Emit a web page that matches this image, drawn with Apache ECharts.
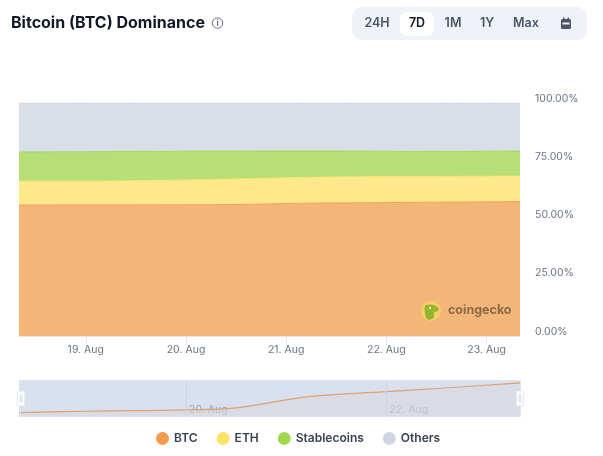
<!DOCTYPE html>
<html><head><meta charset="utf-8">
<style>html,body{margin:0;padding:0;background:#fff}#c{width:603px;height:456px}</style>
<script src="https://cdn.jsdelivr.net/npm/echarts@6/dist/echarts.min.js"></script></head>
<body><div id="c"></div>
<script>
const times = ['2025-08-18T08:00Z','2025-08-19T00:00Z','2025-08-20T00:00Z','2025-08-20T12:00Z','2025-08-21T00:00Z','2025-08-21T08:00Z','2025-08-22T00:00Z','2025-08-22T12:00Z','2025-08-23T08:00Z'];
const btc = [56.2,56.27,56.34,56.44,56.85,57.06,57.26,57.42,57.7];
const eth = [10.3,10.23,10.66,10.96,11.05,11.14,11.19,11.08,11.0];
const stablecoins = [12.5,12.6,12.3,11.95,11.5,11.2,10.85,10.7,10.7];
const others = [21.0,20.9,20.7,20.65,20.6,20.6,20.7,20.8,20.6];
const seriesNames = ['BTC','ETH','Stablecoins','Others'];
const seriesValues = [btc,eth,stablecoins,others];
const seriesColors = ['#f39c4e','#fde467','#a1d84f','#cdd6e2'];
const fillColors = ['#f4b578','#fde98b','#b6df78','#d8dfe9'];
const navTicks = ['2025-08-20T00:00Z','2025-08-22T00:00Z'];
const ranges = ['24H','7D','1M','1Y','Max'];
const rangeX = [377,417,453,487,526];
const FONT='Inter';
const DAY=86400000;
const ms=s=>new Date(s).getTime();
const xMin=ms(times[0]), xMax=ms(times[times.length-1]);
const dayLabel=v=>{const d=new Date(v);return d.getUTCDate()+'. Aug';};
const navLabel=v=>navTicks.map(ms).includes(+v)?dayLabel(v):'';
const chart=echarts.init(document.getElementById('c'),null,{renderer:'canvas'});
const graphic=[
 {type:'rect',shape:{x:352,y:7,width:235,height:33,r:10},style:{fill:'#eff2f8'}},
 {type:'rect',shape:{x:400,y:12,width:34,height:24,r:7},style:{fill:'#fff'}},
 ...ranges.map((t,i)=>({type:'text',x:rangeX[i],y:23,style:{text:t,fill:i===1?'#111827':'#4b5565',font:'600 12.5px '+FONT,align:'center',verticalAlign:'middle'}})),
 {type:'rect',shape:{x:561,y:19,width:10,height:10,r:1.5},style:{fill:'#4b5565'}},
 {type:'rect',shape:{x:562.5,y:22.5,width:7,height:2},style:{fill:'#eff2f8'}},
 {type:'rect',shape:{x:563,y:17.5,width:1.5,height:2},style:{fill:'#4b5565'}},
 {type:'rect',shape:{x:567.5,y:17.5,width:1.5,height:2},style:{fill:'#4b5565'}},
 {type:'circle',shape:{cx:217.5,cy:23,r:5.2},style:{fill:'none',stroke:'#6b7280',lineWidth:1}},
 {type:'text',x:217.5,y:23.2,style:{text:'i',fill:'#6b7280',font:'700 8px '+FONT,align:'center',verticalAlign:'middle'}},
 {type:'circle',z:20,shape:{cx:431,cy:311,r:10},style:{fill:'#f6d365',opacity:.9}},
 {type:'polygon',z:21,shape:{points:[[425,306],[430,304.5],[434,305],[439,309],[437,311.5],[434,312],[434,317],[431,319.5],[427,319],[425,313]],smooth:0.3},style:{fill:'#93b52f'}},
 {type:'circle',z:22,shape:{cx:430,cy:308,r:1},style:{fill:'#fff'}},
 {type:'text',z:20,x:448,y:310.5,style:{text:'coingecko',fill:'#8a6a47',font:'700 12.5px '+FONT,verticalAlign:'middle'}}
];
chart.setOption({
 animation:false,
 useUTC:true,
 textStyle:{fontFamily:FONT},
 title:{text:'Bitcoin (BTC) Dominance',left:11,top:15,padding:0,textStyle:{fontFamily:FONT,fontWeight:700,fontSize:16,color:'#111827'}},
 graphic,
 legend:{data:seriesNames.map((n,i)=>({name:n,itemStyle:{color:seriesColors[i],opacity:1}})),bottom:11,left:156,padding:0,icon:'circle',itemWidth:13,itemHeight:13,itemGap:19,selectedMode:false,textStyle:{fontFamily:FONT,fontSize:12,fontWeight:600,color:'#364152'}},
 grid:[
  {left:19,right:83,top:103,height:233},
  {left:19,right:83,top:380,height:37,show:true,backgroundColor:'#d9e0ef',borderWidth:0}
 ],
 xAxis:[
  {type:'time',gridIndex:0,min:xMin,max:xMax,minInterval:DAY,maxInterval:DAY,
   axisLine:{show:true,lineStyle:{color:'#e3e8ef'}},
   axisTick:{show:true,length:9,lineStyle:{color:'#e3e8ef'}},
   axisLabel:{color:'#697586',fontSize:10.5,fontFamily:FONT,margin:8,formatter:dayLabel,hideOverlap:false,showMinLabel:false,showMaxLabel:false},
   splitLine:{show:false}},
  {type:'time',gridIndex:1,min:xMin,max:xMax,minInterval:DAY,maxInterval:DAY,
   axisLine:{show:false},axisTick:{show:false},
   axisLabel:{inside:true,color:'#9aa1b3',fontSize:10.5,fontFamily:FONT,margin:2,align:'left',padding:[0,0,0,3],formatter:navLabel,hideOverlap:false,showMinLabel:false,showMaxLabel:false},
   splitLine:{show:false}}
 ],
 yAxis:[
  {type:'value',gridIndex:0,position:'right',min:0,max:100,interval:25,
   axisLine:{show:false},axisTick:{show:false},
   axisLabel:{color:'#697586',fontSize:10.5,fontFamily:FONT,margin:15,verticalAlign:'bottom',lineHeight:9,formatter:v=>v.toFixed(2)+'%'},
   splitLine:{show:false}},
  {type:'value',gridIndex:1,min:55.98,max:57.85,show:false}
 ],
 dataZoom:[{type:'slider',xAxisIndex:0,filterMode:'none',start:0,end:100,left:19,right:83,top:380,height:37,
   showDataShadow:false,showDetail:false,brushSelect:false,moveHandleSize:0,
   backgroundColor:'rgba(0,0,0,0)',borderColor:'#dce2ee',fillerColor:'rgba(0,0,0,0)',
   handleIcon:'path://M1 0 H9 Q10 0 10 1 V19 Q10 20 9 20 H1 Q0 20 0 19 V1 Q0 0 1 0 Z M3.5 5 V15 H4.5 V5 Z M5.5 5 V15 H6.5 V5 Z',
   handleSize:'40%',handleStyle:{color:'#fff',borderColor:'#e3e8ef',borderWidth:1,shadowBlur:0,shadowColor:'transparent',opacity:1}}],
 series:[
  ...seriesNames.map((n,i)=>({name:n,type:'line',stack:'dom',xAxisIndex:0,yAxisIndex:0,smooth:0.3,symbol:'none',
    data:seriesValues[i].map((v,j)=>[ms(times[j]),v]),
    lineStyle:{color:seriesColors[i],width:1,opacity:.9},
    itemStyle:{color:seriesColors[i]},
    areaStyle:{color:fillColors[i],opacity:1}})),
  {name:'nav',type:'line',xAxisIndex:1,yAxisIndex:1,smooth:0.4,symbol:'none',data:btc.map((v,j)=>[ms(times[j]),v]),
   lineStyle:{color:'#e0a070',width:1.2},itemStyle:{color:'#e0a070'},areaStyle:{color:'#d9d9dc',opacity:.6},
   markLine:{symbol:'none',silent:true,label:{show:false},lineStyle:{color:'#cdd5e3',width:1,type:'solid'},data:navTicks.map(t=>({xAxis:ms(t)}))}}
 ]
});
</script></body></html>
